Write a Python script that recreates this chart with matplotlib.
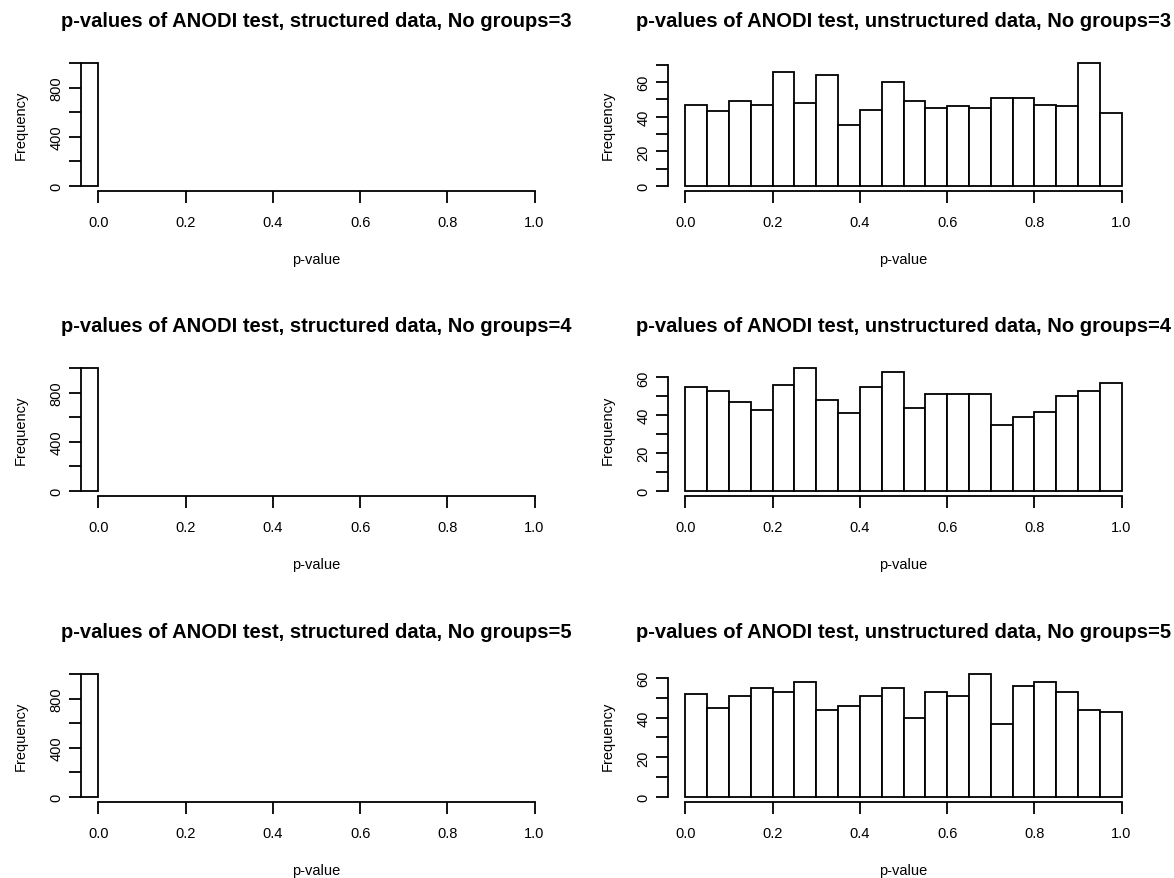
import numpy as np
import matplotlib
matplotlib.use('Agg')
import matplotlib.pyplot as plt

plt.rcParams['font.family'] = ['Liberation Sans', 'DejaVu Sans']

groups = [3, 4, 5]

# structured data: every p-value falls in the first bin
structured_edges = [-0.05, 0.0]
structured_counts = {
    3: [1000],
    4: [1000],
    5: [1000],
}

# unstructured data: 20 bins of width 0.05 on [0, 1]
unstructured_edges = [0.0, 0.05, 0.1, 0.15, 0.2, 0.25, 0.3, 0.35, 0.4, 0.45, 0.5,
                      0.55, 0.6, 0.65, 0.7, 0.75, 0.8, 0.85, 0.9, 0.95, 1.0]
unstructured_counts = {
    3: [47, 43, 49, 47, 66, 48, 64, 35, 44, 60, 49, 45, 46, 45, 51, 51, 47, 46, 71, 42],
    4: [55, 53, 47, 43, 56, 65, 48, 41, 55, 63, 44, 51, 51, 51, 35, 39, 42, 50, 53, 57],
    5: [52, 45, 51, 55, 53, 58, 44, 46, 51, 55, 40, 53, 51, 62, 37, 56, 58, 53, 44, 43],
}

x_ticks = [0.0, 0.2, 0.4, 0.6, 0.8, 1.0]

W, H = 1174, 879
fig = plt.figure(figsize=(W / 100, H / 100), dpi=100)

col_left = [81, 668]
plot_w = 471
plot_h = 133
row_axis = [192, 497, 803]


def r_hist(ax, edges, counts, ystep, title):
    edges = np.asarray(edges)
    counts = np.asarray(counts)
    ax.bar(edges[:-1], counts, width=np.diff(edges), align='edge',
           facecolor='white', edgecolor='black', linewidth=1.3)
    ymax = counts.max()
    ax.set_xlim(-0.04, 1.04)
    ax.set_ylim(-0.04 * ymax, 1.04 * ymax)
    yt = np.arange(0, ymax * 1.04 + 1e-9, ystep)
    ax.set_yticks(yt)
    ax.set_yticklabels([('%d' % v) if i % 2 == 0 else '' for i, v in enumerate(yt)],
                       rotation=90, va='center')
    ax.set_xticks(x_ticks)
    ax.set_xticklabels(['%.1f' % v for v in x_ticks])
    for s in ['top', 'right']:
        ax.spines[s].set_visible(False)
    ax.spines['bottom'].set_bounds(0, 1)
    ax.spines['left'].set_bounds(0, yt[-1])
    for s in ['bottom', 'left']:
        ax.spines[s].set_linewidth(1.3)
    ax.tick_params(axis='both', length=8.5, width=1.3, labelsize=10.5, colors='black')
    ax.tick_params(axis='x', pad=9)
    ax.tick_params(axis='y', pad=4)
    ax.set_xlabel('p-value', fontsize=10.5, labelpad=16)
    ax.set_ylabel('Frequency', fontsize=10.5, labelpad=16)
    ax.set_title(title, fontsize=14.5, fontweight='bold', pad=23)


for r, g in enumerate(groups):
    for c in range(2):
        left = col_left[c] / W
        bottom = 1 - row_axis[r] / H
        ax = fig.add_axes([left, bottom, plot_w / W, plot_h / H])
        if c == 0:
            r_hist(ax, structured_edges, structured_counts[g], 200,
                   'p-values of ANODI test, structured data, No groups=%d' % g)
        else:
            r_hist(ax, unstructured_edges, unstructured_counts[g], 10,
                   'p-values of ANODI test, unstructured data, No groups=%d' % g)

fig.savefig('out.png', dpi=100)
